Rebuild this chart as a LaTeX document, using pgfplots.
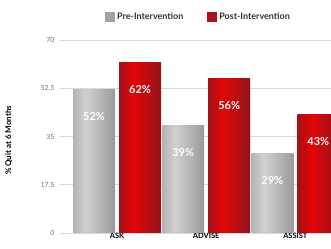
\documentclass[border=0pt]{standalone}
\usepackage{pgfplots}
\pgfplotsset{compat=1.18}
\usepackage{fontspec}
\setmainfont{Lato}
\definecolor{gbar}{HTML}{A3A3A3}
\definecolor{rbar}{HTML}{A8141C}
\pgfdeclarehorizontalshading{cylgray}{100bp}{color(0bp)=(black!55); color(22bp)=(black!32); color(40bp)=(black!18); color(72bp)=(black!38); color(100bp)=(black!58)}
\pgfdeclarehorizontalshading{cylred}{100bp}{color(0bp)=(rbar!55!black); color(22bp)=(rbar!90!black); color(42bp)=(red!70!rbar); color(72bp)=(rbar!90!black); color(100bp)=(rbar!55!black)}
\begin{document}
\begin{tikzpicture}
\begin{axis}[
  at={(0,0)}, anchor=south west,
  scale only axis, width=271bp, height=193bp,
  ybar, bar width=42bp,
  xmin=-0.64, xmax=2.4, ymin=0, ymax=70,
  xtick={0,1,2}, xticklabels={ASK,ADVISE,ASSIST},
  ytick={0,17.5,35,52.5,70},
  yticklabels={0,17.5,35,52.5,70},
  /pgf/number format/assume math mode=true,
  axis line style={draw=none},
  major tick length=0pt,
  ymajorgrids, grid style={gray!30, line width=0.6pt},
  yticklabel style={font=\fontsize{7}{8}\selectfont, text=gray!90!black, xshift=-2bp},
  xticklabel style={font=\fontsize{7.5}{8}\selectfont\bfseries, text=black, yshift=3bp},
  ylabel={\% Quit at 6 Months},
  ylabel style={font=\fontsize{8}{9}\selectfont\bfseries, at={(axis description cs:-0.163,0.48)}},
  legend style={at={(axis description cs:0.155,1.12)}, anchor=west, draw=none, fill=none,
    legend columns=2, font=\fontsize{9}{10}\selectfont\bfseries, text=black!80,
    /tikz/every even column/.append style={column sep=22bp}},
  legend cell align=left,
  nodes near coords={\pgfmathprintnumber{\pgfplotspointmeta}\%},
  every node near coord/.append style={anchor=center, yshift=-27bp, text=white,
    font=\fontsize{11}{12}\selectfont\bfseries},
  gstyle/.style={bar shift=-23bp, draw=none, shading=cylgray, forget plot},
  rstyle/.style={bar shift=23bp, draw=none, shading=cylred, forget plot},
]
\addlegendimage{legend image code/.code={\node[fill=gbar, draw=none, inner sep=0pt, minimum size=10bp] at (5bp,0bp) {};}}
\addlegendentry{Pre-Intervention}
\addlegendimage{legend image code/.code={\node[fill=rbar, draw=none, inner sep=0pt, minimum size=10bp] at (5bp,0bp) {};}}
\addlegendentry{Post-Intervention}
\addplot[gstyle] coordinates {(0,52)};
\addplot[gstyle] coordinates {(1,39)};
\addplot[gstyle] coordinates {(2,29)};
\addplot[rstyle] coordinates {(0,62)};
\addplot[rstyle] coordinates {(1,56)};
\addplot[rstyle] coordinates {(2,43)};
\end{axis}
\pgfresetboundingbox
\path[use as bounding box] (-60bp,-16bp) rectangle (271bp,233bp);
\end{tikzpicture}
\end{document}
